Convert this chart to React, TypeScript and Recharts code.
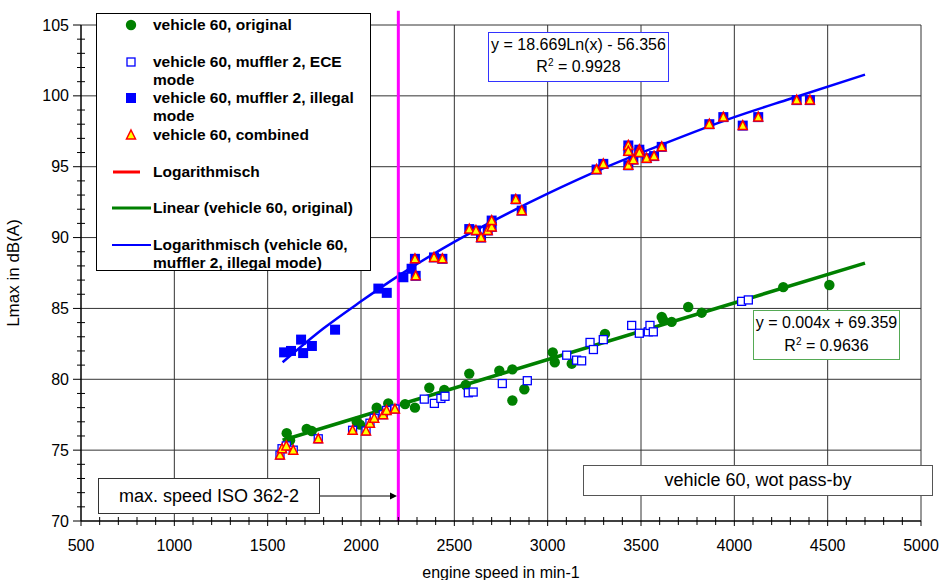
import React from 'react';
import { ComposedChart, Scatter, Line, XAxis, YAxis, ReferenceLine, Legend } from 'recharts';

const FONT = '"Liberation Sans", Arial, Helvetica, sans-serif';

// vehicle 60, original (green circles)
const originalX = [1602, 1620, 1709, 1736, 1977, 1995, 2084, 2146, 2236, 2289, 2366, 2446, 2561, 2580, 2741, 2811, 2811, 2875, 3027, 3038, 3129, 3307, 3611, 3618, 3664, 3753, 3825, 4262, 4509];
const originalY = [76.2, 75.7, 76.5, 76.35, 77.0, 76.8, 78.0, 78.3, 78.25, 78.0, 79.4, 79.25, 79.6, 80.4, 80.6, 80.7, 78.5, 79.3, 81.9, 81.2, 81.1, 83.2, 84.4, 84.2, 84.05, 85.1, 84.7, 86.5, 86.65];

// vehicle 60, muffler 2, ECE mode (open squares)
const eceX = [1566, 1577, 1600, 1637, 1771, 1955, 2027, 2048, 2071, 2119, 2137, 2182, 2339, 2393, 2428, 2450, 2575, 2601, 2757, 2891, 3102, 3155, 3182, 3227, 3245, 3298, 3450, 3491, 3539, 3548, 3566, 4039, 4075];
const eceY = [74.65, 75.1, 75.3, 75.0, 75.8, 76.4, 76.35, 76.9, 77.25, 77.5, 77.8, 77.9, 78.6, 78.3, 78.65, 78.8, 79.05, 79.1, 79.7, 79.9, 81.7, 81.35, 81.3, 82.6, 82.1, 82.8, 83.8, 83.25, 83.35, 83.8, 83.35, 85.5, 85.6];

// vehicle 60, muffler 2, illegal mode (filled squares)
const illegalX = [1588, 1625, 1679, 1690, 1737, 1861, 2093, 2138, 2227, 2271, 2289, 2293, 2391, 2436, 2580, 2616, 2643, 2679, 2700, 2700, 2829, 2861, 3262, 3298, 3432, 3432, 3432, 3459, 3491, 3491, 3530, 3570, 3611, 3866, 3941, 4045, 4128, 4334, 4405];
const illegalY = [81.9, 82.0, 82.8, 81.85, 82.35, 83.5, 86.4, 86.1, 87.2, 87.8, 88.5, 87.3, 88.6, 88.5, 90.6, 90.5, 90.0, 90.5, 90.75, 91.2, 92.7, 91.9, 94.8, 95.2, 96.5, 96.1, 95.1, 95.5, 96.2, 96.0, 95.6, 95.75, 96.4, 98.0, 98.5, 97.9, 98.5, 99.7, 99.7];

// vehicle 60, combined (triangles)
const combinedX = [1566, 1577, 1600, 1637, 1771, 1955, 2027, 2048, 2071, 2119, 2137, 2182, 2289, 2293, 2391, 2436, 2580, 2616, 2643, 2679, 2700, 2700, 2829, 2861, 3262, 3298, 3432, 3432, 3432, 3459, 3491, 3491, 3530, 3570, 3611, 3866, 3941, 4045, 4128, 4334, 4405];
const combinedY = [74.65, 75.1, 75.3, 75.0, 75.8, 76.4, 76.35, 76.9, 77.25, 77.5, 77.8, 77.9, 88.5, 87.3, 88.6, 88.5, 90.6, 90.5, 90.0, 90.5, 90.75, 91.2, 92.7, 91.9, 94.8, 95.2, 96.5, 96.1, 95.1, 95.5, 96.2, 96.0, 95.6, 95.75, 96.4, 98.0, 98.5, 97.9, 98.5, 99.7, 99.7];

// Linear trendline (vehicle 60, original)
const linearX = [1580, 4700];
const linearY = [75.7, 88.2];

// Logarithmic trendline (vehicle 60, muffler 2, illegal mode)
const logX = [1580, 1800, 2000, 2200, 2500, 2800, 3000, 3300, 3600, 4000, 4300, 4700];
const logY = [81.2, 83.6, 85.5, 87.3, 89.7, 91.8, 93.1, 94.9, 96.5, 98.5, 99.8, 101.5];

const xMajorTicks = [500, 1000, 1500, 2000, 2500, 3000, 3500, 4000, 4500, 5000];
const yMajorTicks = [70, 75, 80, 85, 90, 95, 100, 105];
const isoSpeed = 2200;

const range = (a: number, b: number, s: number) => {
  const r: number[] = [];
  for (let v = a; v <= b + 1e-9; v += s) r.push(Math.round(v * 100) / 100);
  return r;
};
const xAllTicks = range(500, 5000, 100);
const yAllTicks = range(70, 105, 1);

const pts = (xs: number[], ys: number[]) => xs.map((x, i) => ({ x, y: ys[i] }));

const legendEntries = [
  { label: 'vehicle 60, original', kind: 'circle', top: 11 },
  { label: 'vehicle 60, muffler 2, ECE\nmode', kind: 'openSquare', top: 48 },
  { label: 'vehicle 60, muffler 2, illegal\nmode', kind: 'square', top: 84 },
  { label: 'vehicle 60, combined', kind: 'triangle', top: 121 },
  { label: 'Logarithmisch', kind: 'redLine', top: 158 },
  { label: 'Linear (vehicle 60, original)', kind: 'greenLine', top: 194 },
  { label: 'Logarithmisch (vehicle 60,\nmuffler 2, illegal mode)', kind: 'blueLine', top: 231 },
];

const CircleShape = (p: any) => <circle cx={p.cx} cy={p.cy} r={5.2} fill="#008000" />;
const OpenSquareShape = (p: any) => (
  <rect x={p.cx - 4} y={p.cy - 4} width={8} height={8} fill="#ffffff" stroke="#0000ff" strokeWidth={1.3} />
);
const SquareShape = (p: any) => <rect x={p.cx - 5} y={p.cy - 5} width={10} height={10} fill="#0000ff" />;
const TriangleShape = (p: any) => (
  <polygon
    points={`${p.cx},${p.cy - 5} ${p.cx + 4.5},${p.cy + 4} ${p.cx - 4.5},${p.cy + 4}`}
    fill="#ffff00"
    stroke="#ff0000"
    strokeWidth={1.5}
    strokeLinejoin="miter"
  />
);

const XTick = (props: any) => {
  const { x, y, payload } = props;
  const v = payload.value;
  const major = v % 500 === 0;
  return (
    <g>
      <line x1={x} x2={x} y1={major ? y : y - 4} y2={y + (major ? 5 : 4)} stroke="#000" strokeWidth={1} />
      {major && (
        <text x={x} y={y + 30} textAnchor="middle" fontSize={16} fontFamily={FONT} fill="#000">
          {v}
        </text>
      )}
    </g>
  );
};

const YTick = (props: any) => {
  const { x, y, payload } = props;
  const v = payload.value;
  const major = v % 5 === 0;
  return (
    <g>
      <line x1={major ? x - 8 : x - 4} x2={major ? x : x + 4} y1={y} y2={y} stroke="#000" strokeWidth={1} />
      {major && (
        <text x={x - 12} y={y + 5.5} textAnchor="end" fontSize={16} fontFamily={FONT} fill="#000">
          {v}
        </text>
      )}
    </g>
  );
};

const LegendMarker = ({ kind }: { kind: string }) => {
  if (kind === 'circle')
    return (
      <svg width={60} height={14} style={{ position: 'absolute', left: 4, top: -7 }}>
        <circle cx={30} cy={7} r={5.2} fill="#008000" />
      </svg>
    );
  if (kind === 'openSquare')
    return (
      <svg width={60} height={14} style={{ position: 'absolute', left: 4, top: -7 }}>
        <rect x={26} y={3} width={8} height={8} fill="#fff" stroke="#0000ff" strokeWidth={1.3} />
      </svg>
    );
  if (kind === 'square')
    return (
      <svg width={60} height={14} style={{ position: 'absolute', left: 4, top: -7 }}>
        <rect x={25} y={2} width={10} height={10} fill="#0000ff" />
      </svg>
    );
  if (kind === 'triangle')
    return (
      <svg width={60} height={14} style={{ position: 'absolute', left: 4, top: -7 }}>
        <polygon points="30,2 34.5,11 25.5,11" fill="#ffff00" stroke="#ff0000" strokeWidth={1.5} />
      </svg>
    );
  const color = kind === 'redLine' ? '#ff0000' : kind === 'greenLine' ? '#008000' : '#0000ff';
  const x1 = kind === 'redLine' ? 12 : 11;
  const x2 = kind === 'redLine' ? 39 : 50;
  const w = kind === 'blueLine' ? 2.2 : 3;
  return (
    <svg width={60} height={14} style={{ position: 'absolute', left: 4, top: -7 }}>
      <line x1={x1} x2={x2} y1={7} y2={7} stroke={color} strokeWidth={w} />
    </svg>
  );
};

const renderLegend = () => (
  <div
    style={{
      position: 'relative',
      width: 273,
      height: 256,
      border: '1.5px solid #000',
      background: '#fff',
      fontFamily: FONT,
      fontWeight: 'bold',
      fontSize: 15.5,
      color: '#000',
    }}
  >
    {legendEntries.map((e) => (
      <div key={e.label} style={{ position: 'absolute', left: 0, top: e.top, width: '100%' }}>
        <LegendMarker kind={e.kind} />
        <div
          style={{
            position: 'absolute',
            left: 56,
            top: -9,
            lineHeight: '18px',
            whiteSpace: 'pre',
          }}
        >
          {e.label}
        </div>
      </div>
    ))}
  </div>
);

const boxText: React.CSSProperties = {
  position: 'absolute',
  background: '#fff',
  fontFamily: FONT,
  color: '#000',
  textAlign: 'center',
  boxSizing: 'border-box',
};

export default function App() {
  return (
    <div style={{ position: 'absolute', left: 0, top: 0, width: 946, height: 580, background: '#fff' }}>
      <ComposedChart width={946} height={580} margin={{ top: 25, right: 25, bottom: 0, left: 0 }}>
        <XAxis
          type="number"
          dataKey="x"
          domain={[500, 5000]}
          ticks={xAllTicks}
          interval={0}
          allowDataOverflow
          tickSize={0}
          tickMargin={0}
          tickLine={false}
          tick={<XTick />}
          axisLine={{ stroke: '#000', strokeWidth: 1.5 }}
          height={59}
          label={{ value: 'engine speed in min-1', position: 'insideBottom', offset: 2, fontSize: 16, fontFamily: FONT, fill: '#000' }}
        />
        <YAxis
          type="number"
          dataKey="y"
          domain={[70, 105]}
          ticks={yAllTicks}
          interval={0}
          allowDataOverflow
          tickSize={0}
          tickMargin={0}
          tickLine={false}
          tick={<YTick />}
          axisLine={{ stroke: '#000', strokeWidth: 1.5 }}
          width={81}
          label={(p: any) => {
            const vb = p.viewBox;
            const cx = 13;
            const cy = vb.y + vb.height / 2;
            return (
              <text
                x={cx}
                y={cy}
                transform={`rotate(-90, ${cx}, ${cy})`}
                textAnchor="middle"
                dominantBaseline="central"
                fontSize={17}
                fontFamily={FONT}
                fill="#000"
              >
                Lmax in dB(A)
              </text>
            );
          }}
        />
        {xMajorTicks.slice(1).map((v) => (
          <ReferenceLine key={'gx' + v} x={v} stroke="#333" strokeWidth={1} />
        ))}
        {yMajorTicks.slice(1).map((v) => (
          <ReferenceLine key={'gy' + v} y={v} stroke="#333" strokeWidth={1} />
        ))}
        <Scatter name="vehicle 60, original" data={pts(originalX, originalY)} shape={CircleShape} isAnimationActive={false} />
        <Scatter name="vehicle 60, muffler 2, ECE mode" data={pts(eceX, eceY)} shape={OpenSquareShape} isAnimationActive={false} />
        <Scatter name="vehicle 60, muffler 2, illegal mode" data={pts(illegalX, illegalY)} shape={SquareShape} isAnimationActive={false} />
        <Scatter name="vehicle 60, combined" data={pts(combinedX, combinedY)} shape={TriangleShape} isAnimationActive={false} />
        <Line
          name="Linear (vehicle 60, original)"
          data={pts(linearX, linearY)}
          dataKey="y"
          type="linear"
          stroke="#008000"
          strokeWidth={3.5}
          dot={false}
          activeDot={false}
          isAnimationActive={false}
        />
        <Line
          name="Logarithmisch (vehicle 60, muffler 2, illegal mode)"
          data={pts(logX, logY)}
          dataKey="y"
          type="monotone"
          stroke="#0000ff"
          strokeWidth={2.5}
          dot={false}
          activeDot={false}
          isAnimationActive={false}
        />
        <ReferenceLine
          segment={[{ x: isoSpeed, y: 70 }, { x: isoSpeed, y: 106 }]}
          stroke="#ff00ff"
          strokeWidth={3}
          ifOverflow="visible"
        />
        <Legend
          layout="vertical"
          align="center"
          verticalAlign="middle"
          content={renderLegend}
          wrapperStyle={{ position: 'absolute', left: 96, top: 13, width: 276, height: 259 }}
        />
      </ComposedChart>

      <div style={{ ...boxText, left: 488, top: 32, width: 181, height: 50, border: '1.5px solid #3333ff', fontSize: 16, lineHeight: '22px', paddingTop: 1 }}>
        <div>y = 18.669Ln(x) - 56.356</div>
        <div>
          R<span style={{ fontSize: 10, position: 'relative', top: -6 }}>2</span> = 0.9928
        </div>
      </div>

      <div style={{ ...boxText, left: 753, top: 310, width: 147, height: 50, border: '1.5px solid #55aa55', fontSize: 16, lineHeight: '23px', paddingTop: 0 }}>
        <div>y = 0.004x + 69.359</div>
        <div>
          R<span style={{ fontSize: 10, position: 'relative', top: -6 }}>2</span> = 0.9636
        </div>
      </div>

      <div style={{ ...boxText, left: 98, top: 478, width: 222, height: 36, border: '1px solid #333', fontSize: 18, lineHeight: '34px' }}>
        max. speed ISO 362-2
      </div>
      <svg width={90} height={12} style={{ position: 'absolute', left: 320, top: 490 }}>
        <line x1={0} x2={72} y1={6} y2={6} stroke="#000" strokeWidth={1} />
        <polygon points="70,2.5 77,6 70,9.5" fill="#000" />
      </svg>

      <div style={{ ...boxText, left: 583, top: 465, width: 350, height: 31, border: '1px solid #555', fontSize: 18, lineHeight: '29px' }}>
        vehicle 60, wot pass-by
      </div>
    </div>
  );
}
